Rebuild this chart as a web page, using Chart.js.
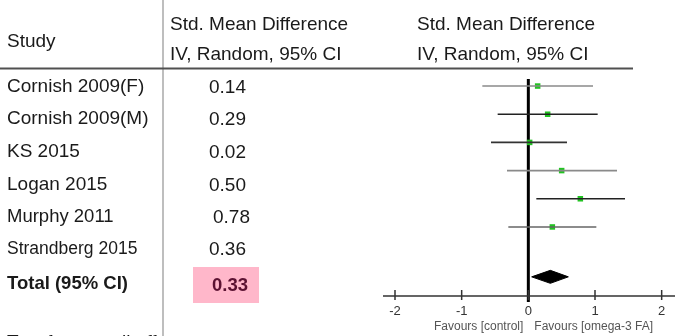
<!DOCTYPE html>
<html>
<head>
<meta charset="utf-8">
<script src="https://cdn.jsdelivr.net/npm/chart.js@4.4.1/dist/chart.umd.min.js"></script>
<style>
  body { margin: 0; background: #fff; }
  canvas { display: block; }
</style>
</head>
<body>
<canvas id="forest" width="679" height="336"></canvas>
<script>
// datos del forest plot
const studies = ["Cornish 2009(F)", "Cornish 2009(M)", "KS 2015", "Logan 2015", "Murphy 2011", "Strandberg 2015"];
const smdLabels = ["0.14", "0.29", "0.02", "0.50", "0.78", "0.36"];
const smd = [0.14, 0.29, 0.02, 0.50, 0.78, 0.36];
const ciLow = [-0.69, -0.46, -0.56, -0.32, 0.12, -0.30];
const ciHigh = [0.97, 1.04, 0.58, 1.33, 1.45, 1.02];
const totalLabel = "Total (95% CI)";
const totalSmd = 0.33;
const totalLow = 0.05;
const totalHigh = 0.60;
const xTicks = [-2, -1, 0, 1, 2];

// estilos
const ciColors = ["#8a8a8a", "#222222", "#333333", "#8a8a8a", "#222222", "#666666"];
const FONT = "'Liberation Sans', Arial, sans-serif";
const totalRow = 6.77;
const diamondHalf = 0.23;

const datasets = [];

// lineas de intervalo de confianza
studies.forEach((s, i) => {
  datasets.push({
    type: "line",
    data: [{ x: ciLow[i], y: i }, { x: ciHigh[i], y: i }],
    borderColor: ciColors[i],
    borderWidth: 1.6,
    pointRadius: 0,
    fill: false,
  });
});

// diamante total
datasets.push({
  type: "line",
  data: [
    { x: totalLow, y: totalRow },
    { x: totalSmd, y: totalRow - diamondHalf },
    { x: totalHigh, y: totalRow },
    { x: totalSmd, y: totalRow + diamondHalf },
    { x: totalLow, y: totalRow },
  ],
  borderColor: "#000",
  backgroundColor: "#000",
  borderWidth: 1,
  pointRadius: 0,
  fill: "shape",
});

// puntos de estimacion
datasets.push({
  type: "scatter",
  data: smd.map((v, i) => ({ x: v, y: i })),
  pointStyle: "rect",
  pointRadius: 3.9,
  backgroundColor: "#22c322",
  borderColor: "#22c322",
  borderWidth: 0,
});

function drawTable(ctx) {
  ctx.save();
  ctx.textBaseline = "middle";
  ctx.textAlign = "left";
  ctx.fillStyle = "#1a1a1a";

  ctx.font = "19px " + FONT;
  ctx.fillText("Study", 7, 42);
  ctx.fillText("Std. Mean Difference", 170, 25);
  ctx.fillText("IV, Random, 95% CI", 170, 55);
  ctx.fillText("Std. Mean Difference", 417, 25);
  ctx.fillText("IV, Random, 95% CI", 417, 55);

  const rowY = [87, 119, 152, 185, 217, 249];
  const valX = [209, 209, 209, 209, 213, 209];
  studies.forEach((s, i) => {
    let size = 19;
    if (s.startsWith("Murphy")) size = 18.5;
    if (s.startsWith("Strandberg")) size = 17.5;
    ctx.font = size + "px " + FONT;
    ctx.fillText(s, 7, rowY[i]);
    ctx.font = "19px " + FONT;
    ctx.fillText(smdLabels[i], valX[i], rowY[i] + 1);
  });

  ctx.font = "bold 18.5px " + FONT;
  ctx.fillText(totalLabel, 7, 284);

  ctx.fillStyle = "#ffb7ca";
  ctx.fillRect(193, 267, 66, 36);
  ctx.fillStyle = "#5b1232";
  ctx.font = "bold 18.5px " + FONT;
  ctx.fillText(totalSmd.toFixed(2), 212, 286);

  // texto cortado abajo
  ctx.fillStyle = "#1a1a1a";
  ctx.font = "19px " + FONT;
  ctx.textBaseline = "alphabetic";
  ctx.fillText("Test for overall effect", 7, 348);

  // lineas de la tabla
  ctx.strokeStyle = "#a8a8a8";
  ctx.lineWidth = 1.5;
  ctx.beginPath();
  ctx.moveTo(163, 0);
  ctx.lineTo(163, 336);
  ctx.stroke();

  ctx.strokeStyle = "#505050";
  ctx.lineWidth = 2;
  ctx.beginPath();
  ctx.moveTo(0, 68.5);
  ctx.lineTo(633, 68.5);
  ctx.stroke();
  ctx.restore();
}

const forestPlugin = {
  id: "forestPlugin",
  beforeDatasetsDraw(chart) {
    const { ctx, chartArea, scales } = chart;
    const x0 = scales.x.getPixelForValue(0);
    ctx.save();
    ctx.strokeStyle = "#000";
    ctx.lineWidth = 3;
    ctx.beginPath();
    ctx.moveTo(x0, chartArea.top);
    ctx.lineTo(x0, chartArea.bottom + 6);
    ctx.stroke();
    ctx.restore();
  },
  afterDraw(chart) {
    const { ctx, chartArea, scales } = chart;
    const xs = scales.x;
    const yb = chartArea.bottom;
    ctx.save();
    // eje x con marcas cruzadas
    ctx.strokeStyle = "#333";
    ctx.lineWidth = 1.5;
    ctx.beginPath();
    ctx.moveTo(chartArea.left, yb);
    ctx.lineTo(chartArea.right, yb);
    xTicks.forEach((t) => {
      const px = xs.getPixelForValue(t);
      ctx.moveTo(px, yb - 6);
      ctx.lineTo(px, yb + 4);
    });
    ctx.stroke();

    const x0 = xs.getPixelForValue(0);
    ctx.fillStyle = "#555";
    ctx.font = "12px " + FONT;
    ctx.textBaseline = "middle";
    ctx.textAlign = "right";
    ctx.fillText("Favours [control]", x0 - 5, 327);
    ctx.textAlign = "left";
    ctx.fillText("Favours [omega-3 FA]", x0 + 6, 327);
    ctx.restore();

    drawTable(ctx);
  },
};

new Chart(document.getElementById("forest"), {
  data: { datasets: datasets },
  options: {
    responsive: false,
    animation: false,
    layout: { padding: { left: 383, right: 1, top: 79, bottom: 0 } },
    plugins: {
      legend: { display: false },
      tooltip: { enabled: false },
    },
    scales: {
      x: {
        type: "linear",
        min: -2.18,
        max: 2.2,
        afterBuildTicks: (scale) => {
          scale.ticks = xTicks.map((v) => ({ value: v }));
        },
        afterFit: (scale) => {
          scale.height = 40;
        },
        grid: { display: false, drawTicks: false },
        border: { display: false },
        ticks: {
          padding: 8,
          color: "#333",
          font: { family: FONT, size: 13 },
        },
      },
      y: {
        type: "linear",
        display: false,
        reverse: true,
        min: -0.25,
        max: 7.45,
      },
    },
  },
  plugins: [forestPlugin],
});
</script>
</body>
</html>
